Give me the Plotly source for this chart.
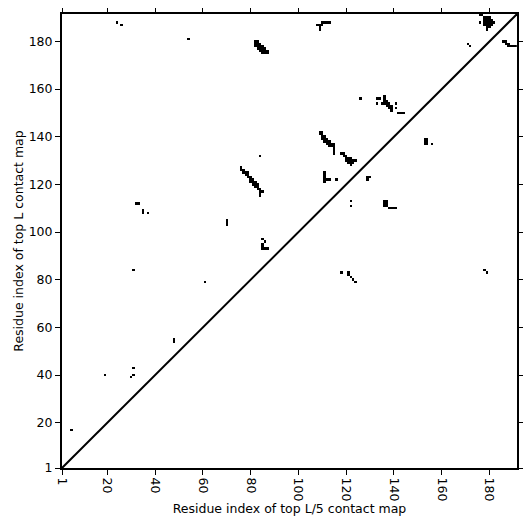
import plotly.graph_objects as go

L = 191
tick_values = [1, 20, 40, 60, 80, 100, 120, 140, 160, 180]
x_title = "Residue index of top L/5 contact map"
y_title = "Residue index of top L contact map"

# contacts drawn above the diagonal (x = residue i, y = residue j)
upper_contacts = [
    (5, 17), (19, 40), (30, 39), (31, 40), (31, 43), (48, 54), (48, 55),
    (31, 84), (61, 79), (32, 112), (33, 112), (35, 108), (35, 109), (37, 108),
    (24, 188), (26, 187), (54, 181), (70, 103), (70, 104), (70, 105),
    (84, 132), (126, 156), (116, 122), (171, 179), (172, 178),
    # band 82-87 / 175-180
    (82, 180), (83, 180), (82, 179), (83, 179), (84, 179), (83, 178), (84, 178),
    (85, 178), (84, 177), (85, 177), (86, 177), (85, 176), (86, 176), (87, 176),
    (86, 175), (87, 175), (83, 177), (84, 176), (85, 175), (82, 178),
    # T shape 108-113 / 185-188
    (108, 187), (109, 187), (110, 187), (109, 186), (109, 185),
    (110, 188), (111, 188), (112, 188), (113, 188),
    # top right blob
    (176, 191), (177, 191), (178, 190), (176, 188), (178, 189), (179, 189),
    (180, 189), (181, 189), (178, 188), (179, 188), (180, 188), (181, 188),
    (182, 188), (178, 187), (179, 187), (180, 187), (181, 187), (179, 186),
    (180, 186), (179, 185), (179, 190), (180, 190),
    # band 109-115 / 133-142
    (109, 142), (109, 141), (110, 141), (110, 140), (111, 140), (111, 139),
    (111, 138), (112, 139), (112, 138), (113, 138), (113, 137), (114, 137),
    (114, 136), (115, 137), (115, 136), (115, 135), (115, 134), (115, 133),
    (110, 142), (110, 139), (112, 137), (113, 136),
    # band 118-124 / 128-133
    (118, 133), (119, 133), (119, 132), (120, 132), (120, 131), (121, 131),
    (122, 131), (121, 130), (122, 130), (123, 130), (122, 129), (123, 129),
    (124, 130), (122, 128), (120, 130), (121, 129),
    # band 76-85 / 115-127
    (76, 127), (76, 126), (77, 126), (78, 125), (78, 124), (79, 125), (79, 124),
    (79, 123), (80, 123), (80, 122), (81, 122), (81, 121), (82, 121), (82, 120),
    (83, 120), (82, 119), (83, 119), (84, 118), (84, 117), (85, 117), (84, 116),
    (84, 115), (77, 125), (80, 121), (81, 120), (83, 118),
    # "4" shape
    (111, 125), (111, 124), (111, 123), (111, 122), (111, 121), (112, 122), (113, 122),
    # "2" shape
    (85, 97), (86, 96), (85, 95), (85, 94), (85, 93), (86, 93), (87, 93),
    # cluster 133-144 / 149-157
    (133, 156), (134, 156), (133, 154), (136, 157), (136, 156),
    (135, 154), (136, 154), (137, 154), (138, 154), (136, 155), (137, 155),
    (137, 153), (138, 153), (139, 153), (139, 152), (139, 151), (138, 152),
    (141, 154), (141, 152), (142, 150), (143, 150), (144, 150),
]

# contacts drawn below the diagonal
lower_contacts = [
    (118, 83), (121, 83), (121, 82), (122, 81), (123, 80), (124, 79),
    (178, 84), (179, 83),
    (122, 113), (122, 111),
    (129, 123), (130, 123), (129, 122),
    (136, 113), (137, 113), (136, 112), (137, 112), (136, 111), (137, 111),
    (138, 110), (139, 110), (140, 110), (141, 110),
    (153, 139), (154, 139), (153, 138), (154, 138), (153, 137), (154, 137), (156, 137),
    (186, 180), (187, 180), (187, 179), (188, 179), (188, 178), (189, 178),
    (190, 178), (191, 178),
]

residues = list(range(1, L + 1))
z = [[None] * L for _ in range(L)]
for (i, j) in upper_contacts + lower_contacts:
    z[j - 1][i - 1] = 1

fig = go.Figure()
fig.add_trace(go.Heatmap(
    z=z, x=residues, y=residues,
    colorscale=[[0, "black"], [1, "black"]],
    showscale=False, hoverongaps=False, zsmooth=False,
))
fig.add_trace(go.Scatter(
    x=[1, L + 0.5], y=[1, L + 0.5], mode="lines",
    line=dict(color="black", width=2), showlegend=False, hoverinfo="skip",
))

font = dict(family="DejaVu Sans", size=12.5, color="black")
axis_common = dict(
    range=[1, L + 0.5],
    tickmode="array", tickvals=tick_values,
    ticks="outside", ticklen=5, tickwidth=1, tickcolor="black",
    showline=True, linewidth=2, linecolor="black", mirror="allticks",
    showgrid=False, zeroline=False,
    tickfont=font, title_font=font,
)

fig.update_xaxes(**axis_common, tickangle=90, title_text=x_title, title_standoff=4)
fig.update_yaxes(**axis_common, title_text=y_title, title_standoff=2)

fig.update_layout(
    width=515, height=515,
    margin=dict(l=54, r=6, t=6, b=55, autoexpand=False),
    plot_bgcolor="white", paper_bgcolor="white",
    showlegend=False,
)

fig.write_html("out.html")
